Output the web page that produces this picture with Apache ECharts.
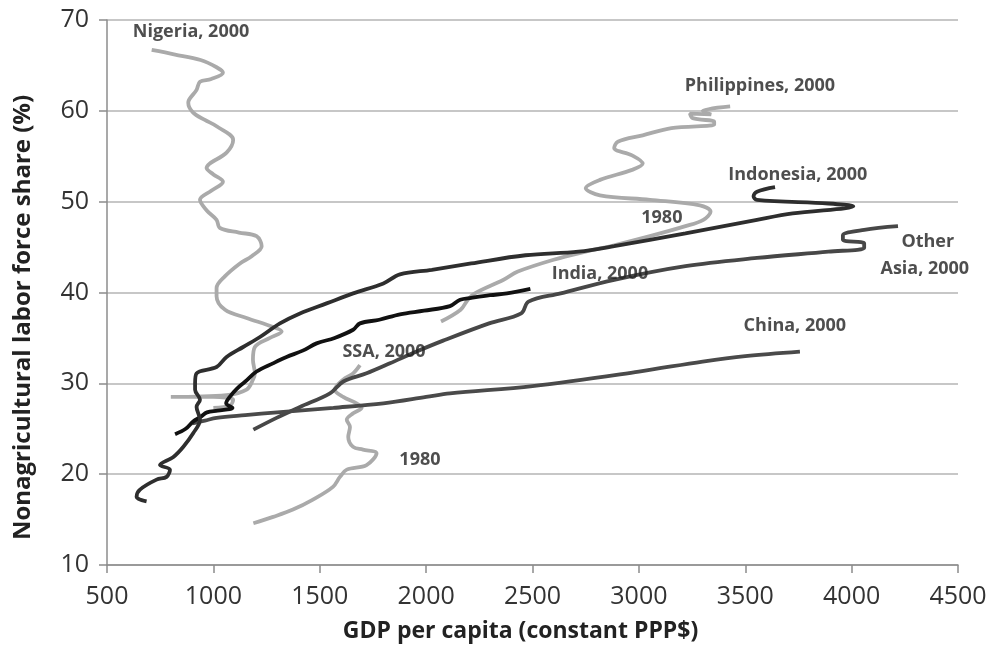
<!DOCTYPE html>
<html><head><meta charset="utf-8">
<script src="https://cdn.jsdelivr.net/npm/echarts@6/dist/echarts.min.js"></script>
<style>html,body{margin:0;padding:0;background:#fff}#c{width:987px;height:645px}</style>
</head><body><div id="c"></div>
<script>
var xTicks = [500, 4500, 500];   // min, max, interval
var yTicks = [10, 70, 10];

var nigeria = [[710,66.7],[820,66.2],[940,65.6],[1015,64.8],[1045,64.2],[990,63.5],[937,63.2],[921,62.3],[882,60.9],[905,59.8],[960,59.0],[1015,58.3],[1093,56.8],[1062,55.4],[968,53.7],[1000,53.0],[1045,52.2],[990,51.2],[937,50.2],[970,49.0],[1015,48.0],[1031,47.1],[1120,46.6],[1203,46.2],[1227,45.1],[1180,44.0],[1125,43.2],[1055,41.8],[1015,40.5],[1015,39.6],[1055,38.1],[1156,37.2],[1281,36.2],[1321,35.7],[1266,35.0],[1195,34.0],[1186,32.6],[1195,31.1],[1186,30.4],[1156,29.3],[1062,28.7],[800,28.5],[1000,28.5],[1093,28.2],[1080,27.6],[1000,27.3]];
var ssa = [[1188,14.6],[1281,15.3],[1374,16.1],[1468,17.2],[1562,18.6],[1595,19.7],[1627,20.5],[1720,21.0],[1767,22.3],[1703,22.7],[1657,23.0],[1634,24.1],[1642,25.2],[1627,26.0],[1657,26.7],[1697,27.3],[1673,27.8],[1610,28.5],[1571,29.3],[1610,30.4],[1657,31.1],[1689,32.0]];
var philippines = [[2070,36.8],[2162,38.1],[2196,39.2],[2229,39.9],[2364,41.4],[2431,42.3],[2599,43.6],[2750,44.5],[2884,45.2],[3052,46.2],[3219,47.3],[3303,48.0],[3337,48.9],[3287,49.6],[3052,50.2],[2817,50.7],[2750,51.5],[2817,52.4],[2968,53.5],[3018,54.2],[2968,55.1],[2884,55.9],[2901,56.6],[3018,57.3],[3153,58.1],[3354,58.5],[3354,58.8],[3253,59.2],[3240,59.7],[3340,59.6],[3300,60.0],[3429,60.5]];
var indonesia = [[686,17.0],[639,17.5],[655,18.3],[733,19.4],[780,19.7],[796,20.5],[749,21.0],[812,21.9],[858,23.0],[905,24.5],[937,26.0],[921,27.4],[937,28.2],[914,29.3],[914,30.0],[921,31.1],[1015,31.8],[1062,32.9],[1140,34.0],[1219,35.1],[1313,36.6],[1407,37.7],[1532,38.8],[1657,39.9],[1799,41.0],[1877,42.0],[2027,42.5],[2212,43.2],[2467,44.1],[2716,44.5],[2884,45.1],[3219,46.5],[3555,48.0],[3723,48.7],[4008,49.5],[3891,49.8],[3555,50.2],[3539,50.6],[3555,51.1],[3640,51.6]];
var india = [[820,24.4],[870,25.0],[905,25.8],[940,26.3],[970,26.8],[1020,27.0],[1090,27.3],[1060,27.8],[1080,28.6],[1110,29.4],[1150,30.2],[1203,31.3],[1280,32.2],[1344,32.9],[1420,33.6],[1485,34.4],[1570,35.0],[1657,35.9],[1689,36.6],[1780,37.0],[1877,37.6],[1990,38.0],[2112,38.5],[2160,39.2],[2212,39.4],[2300,39.7],[2380,39.9],[2490,40.4]];
var china = [[900,25.6],[960,25.9],[1015,26.2],[1150,26.5],[1300,26.8],[1564,27.3],[1799,27.8],[2000,28.5],[2112,28.9],[2500,29.7],[3000,31.3],[3300,32.4],[3500,33.0],[3757,33.5]];
var otherAsia = [[1188,24.9],[1297,26.2],[1407,27.4],[1548,28.9],[1611,30.2],[1720,31.1],[1830,32.2],[1955,33.5],[2080,34.7],[2296,36.6],[2447,37.7],[2481,39.0],[2632,39.9],[2884,41.4],[3219,42.9],[3555,43.8],[3891,44.5],[4059,44.9],[4059,45.4],[3959,45.8],[3959,46.3],[4059,46.9],[4218,47.3]];

var labelNames = ['Nigeria, 2000','Philippines, 2000','Indonesia, 2000','1980','Other','Asia, 2000','India, 2000','China, 2000','SSA, 2000','1980'];
var labelX = [895,3569,3747,3108,4358,4344,2817,3733,1802,1971];
var labelY = [68.7,62.75,52.95,48.2,45.6,42.6,42.05,36.3,33.45,21.6];

var FONT = 'Open Sans';
function lineSeries(name, data, color, width){
  return {name:name, type:'line', data:data, showSymbol:false, smooth:0.35,
    lineStyle:{color:color, width:width}, itemStyle:{color:color}, silent:true, animation:false};
}
var labelData = labelNames.map(function(n,i){return {name:n, value:[labelX[i], labelY[i]]};});

var chart = echarts.init(document.getElementById('c'));
chart.setOption({
  animation:false,
  grid:{left:107, right:29, top:20, bottom:80, containLabel:false, outerBoundsMode:'none'},
  xAxis:{type:'value', min:xTicks[0], max:xTicks[1], interval:xTicks[2],
    axisLine:{lineStyle:{color:'#8c8c8c', width:1.5}},
    axisTick:{show:true, length:8, lineStyle:{color:'#8c8c8c', width:1.5}},
    splitLine:{show:false},
    axisLabel:{color:'#333', fontSize:25, fontFamily:FONT, margin:19, formatter:function(v){return String(v);}},
    name:'GDP per capita (constant PPP$)', nameLocation:'middle', nameGap:55,
    nameTextStyle:{color:'#222', fontSize:23, fontWeight:'bold', fontFamily:FONT, padding:[0,24,0,0]}
  },
  yAxis:{type:'value', min:yTicks[0], max:yTicks[1], interval:yTicks[2],
    axisLine:{show:true, lineStyle:{color:'#8c8c8c', width:1.5}},
    axisTick:{show:true, length:8, lineStyle:{color:'#8c8c8c', width:1.5}},
    splitLine:{show:true, lineStyle:{color:'#b4b4b4', width:1.5}},
    axisLabel:{color:'#333', fontSize:25, fontFamily:FONT, margin:18, formatter:function(v){return String(v);}},
    name:'Nonagricultural labor force share (%)', nameLocation:'middle', nameGap:72,
    nameTextStyle:{color:'#222', fontSize:24, fontWeight:'bold', fontFamily:FONT, padding:[0,50,0,0]}
  },
  series:[
    lineSeries('Nigeria', nigeria, '#aaaaaa', 3.8),
    lineSeries('SSA', ssa, '#aaaaaa', 3.8),
    lineSeries('Philippines', philippines, '#aaaaaa', 3.8),
    lineSeries('Other Asia', otherAsia, '#474747', 3.8),
    lineSeries('China', china, '#4a4a4a', 3.8),
    lineSeries('India', india, '#111111', 3.8),
    lineSeries('Indonesia', indonesia, '#2e2e2e', 3.8),
    {type:'scatter', data:labelData, symbolSize:0, silent:true, z:10,
     label:{show:true, position:'inside', formatter:'{b}', color:'#222', fontSize:18, fontWeight:'bold', fontFamily:FONT}}
  ]
});
</script></body></html>
